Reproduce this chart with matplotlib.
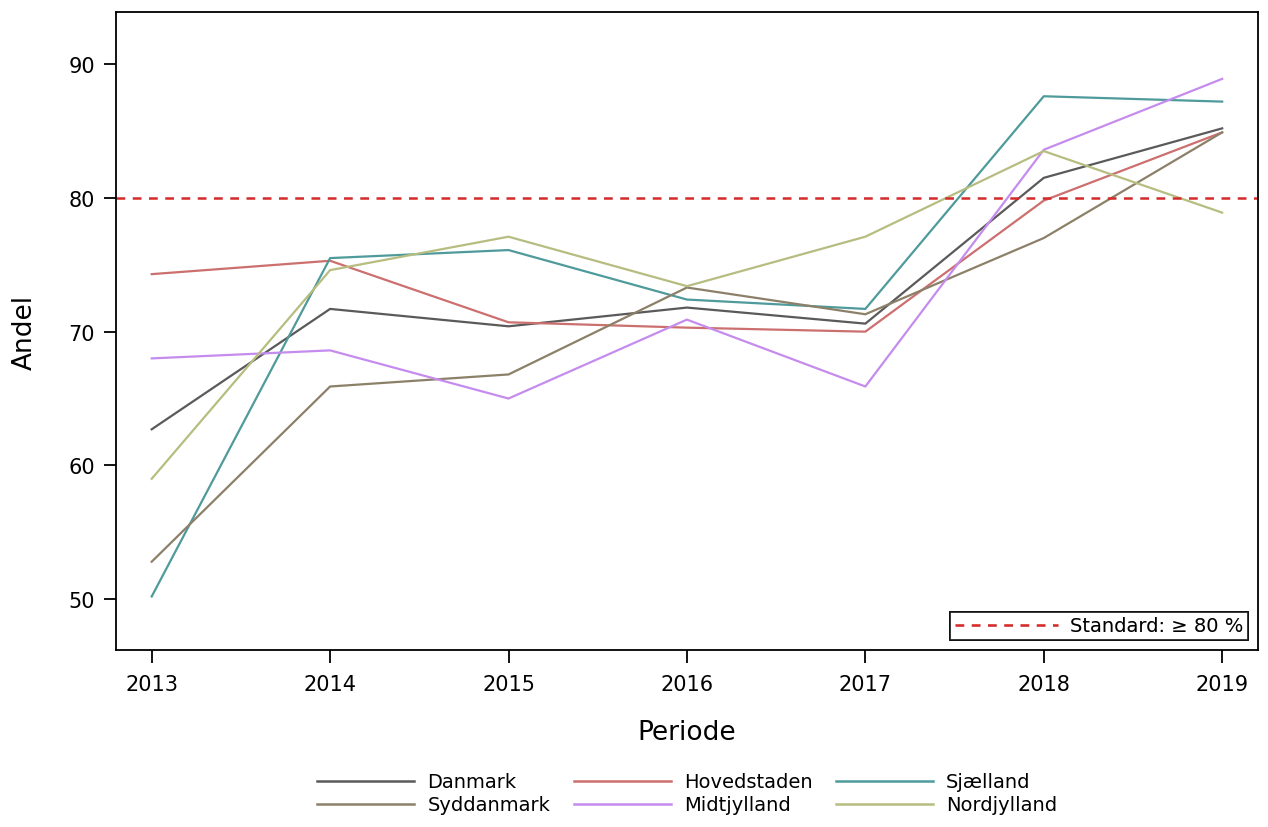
import matplotlib
matplotlib.use("Agg")
import matplotlib.pyplot as plt
from matplotlib.lines import Line2D

aar = [2013, 2014, 2015, 2016, 2017, 2018, 2019]

danmark = [62.7, 71.7, 70.4, 71.8, 70.6, 81.5, 85.2]
hovedstaden = [74.3, 75.3, 70.7, 70.3, 70.0, 79.8, 84.9]
sjaelland = [50.2, 75.5, 76.1, 72.4, 71.7, 87.6, 87.2]
syddanmark = [52.8, 65.9, 66.8, 73.3, 71.3, 77.0, 84.9]
midtjylland = [68.0, 68.6, 65.0, 70.9, 65.9, 83.6, 88.9]
nordjylland = [59.0, 74.6, 77.1, 73.4, 77.1, 83.5, 78.9]

standard = 80

serier = [
    ("Danmark", danmark, "#5a5a5a"),
    ("Hovedstaden", hovedstaden, "#cc6f6f"),
    ("Sjælland", sjaelland, "#4f9a9a"),
    ("Syddanmark", syddanmark, "#8c8068"),
    ("Midtjylland", midtjylland, "#c58cee"),
    ("Nordjylland", nordjylland, "#b7bd80"),
]

fig = plt.figure(figsize=(12.68, 8.28), dpi=100)
ax = fig.add_axes([0.0915, 0.2138, 0.9005, 0.7705])

for navn, vaerdier, farve in serier:
    ax.plot(aar, vaerdier, color=farve, linewidth=1.6, label=navn)

std_linje = ax.axhline(standard, color="#d42a2a", linestyle=(0, (3.5, 3)), linewidth=1.8)

ax.set_xlim(2012.8, 2019.2)
ax.set_ylim(46.2, 93.9)
ax.set_xticks(aar)
ax.set_yticks([50, 60, 70, 80, 90])
ax.tick_params(labelsize=15, length=9, width=1.3, pad=6)
ax.tick_params(axis="x", pad=8)
for s in ax.spines.values():
    s.set_linewidth(1.3)

ax.set_xlabel("Periode", fontsize=19, labelpad=18)
ax.set_ylabel("Andel", fontsize=19, labelpad=22)

leg1 = ax.legend([std_linje], ["Standard: \u2265 80 %"], loc="lower right",
                 fontsize=14, frameon=True, fancybox=False, edgecolor="black",
                 borderaxespad=0.5, handlelength=5.3, borderpad=0.25,
                 handletextpad=0.6)
leg1.get_frame().set_linewidth(1.3)
ax.add_artist(leg1)

handles = [Line2D([], [], color=f, linewidth=1.8) for _, _, f in serier]
labels = [n for n, _, _ in serier]
# rækkefølge så kolonner bliver Danmark/Syddanmark, Hovedstaden/Midtjylland, Sjælland/Nordjylland
order = [0, 3, 1, 4, 2, 5]
fig.legend([handles[i] for i in order], [labels[i] for i in order],
           loc="lower center", bbox_to_anchor=(0.542, 0.0), ncol=3,
           frameon=False, fontsize=14, handlelength=5.0, columnspacing=1.2,
           labelspacing=0.2, handletextpad=0.67, borderpad=0.15)

fig.savefig("out.png", dpi=100)
